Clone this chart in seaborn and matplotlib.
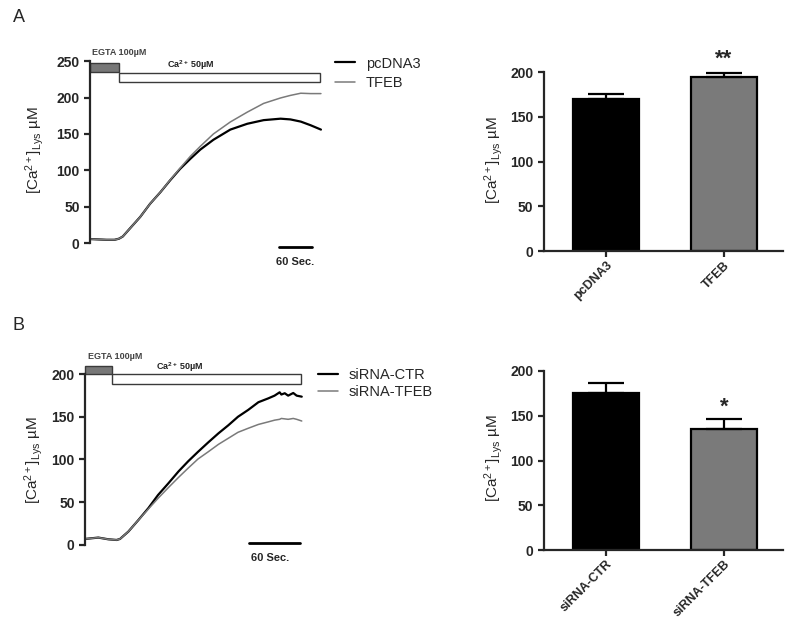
"""
Lysosomal Ca2+ traces and summary bars (panels A and B).
"""

import matplotlib
matplotlib.use("Agg")
import matplotlib.pyplot as plt
from matplotlib.patches import Rectangle
import pandas as pd
import seaborn as sns

# ---- panel A: traces (time in s, [Ca2+] in uM) ----
time_a = [0, 15, 30, 45, 53, 60, 73, 92, 110, 129, 147, 165, 184, 202,
          226, 257, 288, 318, 349, 367, 386, 404, 423]
pcdna3_trace = [5.5, 5, 4.5, 4.5, 6, 9, 20, 36, 54, 70, 86.5, 102, 116,
                128.5, 142, 156, 164, 169, 171, 170, 167, 162, 156]
tfeb_trace = [5.5, 5, 4.5, 4.5, 6, 9, 20, 36, 54, 70, 87, 103, 119.5,
              133, 150, 166.5, 180, 192, 199.5, 203, 206, 205.5, 205.5]
labels_a = ["pcDNA3", "TFEB"]

# ---- panel A: bars ----
bar_means_a = [169.5, 194.4]
bar_sem_a = [5.9, 4.9]

# ---- panel B: traces ----
time_b = [0, 15.7, 27.4, 37.2, 41.2, 51, 62.7, 74.5, 86, 98, 110, 121.5,
          133, 145, 157, 168.6, 180, 192, 204, 215.6, 223, 229, 231, 235,
          239, 245, 249, 255]
ctr_trace = [7, 8.6, 6.6, 5.8, 7, 15.6, 29, 43, 58.5, 72, 86, 98, 109,
             120, 130.6, 140, 150, 158, 167, 171.5, 174.7, 178.6, 176,
             177.5, 174.7, 177.8, 174.7, 173.5]
sitfeb_trace = [7, 8.6, 6.6, 5.8, 7, 15.6, 29, 42, 54.6, 67, 79, 90,
                100.6, 109, 117.7, 124.8, 131.8, 136.5, 141, 144, 146,
                147, 148, 147.5, 147, 148, 147, 145]
labels_b = ["siRNA-CTR", "siRNA-TFEB"]

# ---- panel B: bars ----
bar_means_b = [175.0, 135.0]
bar_sem_b = [12.0, 11.0]

YLABEL = r"[Ca$^{\mathrm{2+}}$]$_{\mathrm{Lys}}$ µM"
BLACK = "#000000"
GREY = "#7a7a7a"
BOX_EDGE = "#3a3a3a"

sns.set_style("ticks")
plt.rcParams["font.family"] = ["Liberation Sans", "DejaVu Sans"]
plt.rcParams["mathtext.fontset"] = "custom"
plt.rcParams["mathtext.rm"] = "Liberation Sans"
plt.rcParams["mathtext.bf"] = "Liberation Sans:bold"
plt.rcParams["mathtext.it"] = "Liberation Sans:italic"


def style_left_axis(ax, ticks):
    ax.set_yticks(ticks)
    ax.spines["left"].set_bounds(ticks[0], ticks[-1])
    ax.spines["left"].set_linewidth(1.6)
    ax.tick_params(axis="y", width=1.6, length=4, labelsize=10)
    for lab in ax.get_yticklabels():
        lab.set_fontweight("bold")
    sns.despine(ax=ax)


def draw_traces(ax, time, traces, labels, egta, ca, scale, texts, yticks,
                leg_anchor, leg_spacing):
    frames = []
    for values, name in zip(traces, labels):
        frames.append(pd.DataFrame({"time": time, "conc": values, "group": name}))
    df = pd.concat(frames)
    sns.lineplot(data=df, x="time", y="conc", hue="group",
                 palette=[BLACK, GREY], ax=ax, legend=False)
    ax.lines[0].set_linewidth(1.6)
    ax.lines[1].set_linewidth(1.1)

    # solution boxes on top of the trace
    ax.add_patch(Rectangle((egta[0], egta[2]), egta[1] - egta[0],
                           egta[3] - egta[2], facecolor="#777777",
                           edgecolor=BOX_EDGE, lw=1, clip_on=False))
    ax.add_patch(Rectangle((ca[0], ca[2]), ca[1] - ca[0], ca[3] - ca[2],
                           facecolor="white", edgecolor=BOX_EDGE, lw=1,
                           clip_on=False))
    ax.text(texts[0][0], texts[0][1], "EGTA 100µM", fontsize=6.5,
            fontweight="bold", color="#444444", va="center", ha="left")
    ax.text(texts[1][0], texts[1][1], r"Ca$^{\mathbf{2+}}$ 50µM",
            fontsize=6.5, fontweight="bold", color="#222222",
            va="center", ha="center")

    # 60 s scale bar
    ax.plot([scale[0], scale[1]], [scale[2], scale[2]], color=BLACK,
            lw=2, clip_on=False)
    ax.text(texts[2][0], texts[2][1], "60 Sec.", fontsize=8,
            fontweight="bold", va="center", ha="center")

    handles = [plt.Line2D([], [], color=BLACK, lw=1.6),
               plt.Line2D([], [], color=GREY, lw=1.1)]
    ax.legend(handles, labels, loc="upper left", bbox_to_anchor=leg_anchor,
              frameon=False, fontsize=10.5, handlelength=1.4,
              handletextpad=0.7, borderpad=0, borderaxespad=0,
              labelspacing=leg_spacing)

    style_left_axis(ax, yticks)
    ax.spines["bottom"].set_visible(False)
    ax.set_xticks([])
    ax.set_xlabel("")
    ax.set_ylabel(YLABEL, fontsize=11)


def draw_bars(ax, means, sems, labels, stars, star_y, star_size):
    df = pd.DataFrame({"group": labels, "conc": means})
    sns.barplot(data=df, x="group", y="conc", hue="group",
                palette=[BLACK, GREY], edgecolor=BLACK, linewidth=1.6,
                width=0.56, legend=False, ax=ax)
    ax.errorbar(x=[0, 1], y=means, yerr=[[0, 0], sems], fmt="none",
                ecolor=BLACK, elinewidth=1.6, capsize=13, capthick=1.6,
                zorder=3)
    ax.text(1, star_y, stars, fontsize=star_size, fontweight="bold",
            ha="center", va="center")
    ax.set_xlim(-0.525, 1.5)
    ax.set_ylim(0, 205)
    style_left_axis(ax, [0, 50, 100, 150, 200])
    ax.spines["bottom"].set_linewidth(1.6)
    ax.tick_params(axis="x", width=1.6, length=4, labelsize=9, pad=2)
    ax.set_xticks([0, 1])
    ax.set_xticklabels(labels, rotation=45, ha="right",
                       rotation_mode="anchor", fontweight="bold")
    ax.set_xlabel("")
    ax.set_ylabel(YLABEL, fontsize=11)


fig = plt.figure(figsize=(7.87, 6.26), dpi=100)

ax_a = fig.add_axes([0.1144, 0.5885, 0.2948, 0.3195])
ax_a.set_xlim(0, 425)
ax_a.set_ylim(-20, 255)
draw_traces(ax_a, time_a, [pcdna3_trace, tfeb_trace], labels_a,
            egta=(0, 53, 235, 248), ca=(53, 422, 222, 234),
            scale=(347, 407, -5.5),
            texts=[(3.5, 262), (184, 245), (376, -26)],
            yticks=[0, 50, 100, 150, 200, 250],
            leg_anchor=(1.056, 1.005), leg_spacing=0.35)
ax_a.yaxis.set_label_coords(-0.19, 0.54)

ax_b = fig.add_axes([0.108, 0.1022, 0.2765, 0.3208])
ax_b.set_xlim(0, 256)
ax_b.set_ylim(-20, 215)
draw_traces(ax_b, time_b, [ctr_trace, sitfeb_trace], labels_b,
            egta=(0, 31.4, 200, 209.7), ca=(31.4, 254, 188, 200),
            scale=(193, 253, 2),
            texts=[(3.5, 220), (112, 208.5), (218, -15.2)],
            yticks=[0, 50, 100, 150, 200],
            leg_anchor=(1.071, 0.965), leg_spacing=0.2)
ax_b.yaxis.set_label_coords(-0.184, 0.508)

ax_c = fig.add_axes([0.6912, 0.599, 0.3037, 0.2931])
draw_bars(ax_c, bar_means_a, bar_sem_a, labels_a, "**", 214, 16)
ax_c.yaxis.set_label_coords(-0.163, 0.496)

ax_d = fig.add_axes([0.6912, 0.1214, 0.3037, 0.2931])
draw_bars(ax_d, bar_means_b, bar_sem_b, labels_b, "*", 160, 16)
ax_d.yaxis.set_label_coords(-0.163, 0.50)

fig.text(13 / 787, 1 - 18 / 626, "A", fontsize=13, va="center")
fig.text(13 / 787, 1 - 325 / 626, "B", fontsize=13, va="center")

fig.savefig("out.png", dpi=100)
